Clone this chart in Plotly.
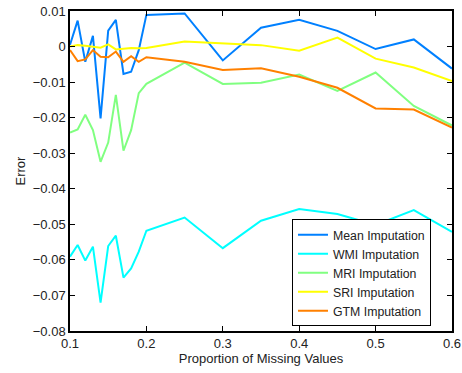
import plotly.graph_objects as go

x_vals = [0.10, 0.11, 0.12, 0.13, 0.14, 0.15, 0.16, 0.17, 0.18, 0.19, 0.20,
          0.25, 0.30, 0.35, 0.40, 0.45, 0.50, 0.55, 0.60]

mean_imp = [0.0005, 0.0073, -0.0043, 0.0030, -0.0202, 0.0045, 0.0075, -0.0077, -0.0071, -0.0010, 0.0089,
            0.0093, -0.0039, 0.0053, 0.0075, 0.0044, -0.0007, 0.0020, -0.0062]
wmi_imp = [-0.0591, -0.0558, -0.0602, -0.0563, -0.0720, -0.0561, -0.0532, -0.0650, -0.0624, -0.0577, -0.0518,
           -0.0481, -0.0567, -0.0490, -0.0457, -0.0471, -0.0502, -0.0460, -0.0521]
mri_imp = [-0.0242, -0.0233, -0.0192, -0.0235, -0.0324, -0.0270, -0.0136, -0.0293, -0.0235, -0.0131, -0.0105,
           -0.0045, -0.0105, -0.0102, -0.0079, -0.0125, -0.0073, -0.0167, -0.0222]
sri_imp = [0.0000, 0.0004, 0.0002, 0.0000, -0.0003, 0.0006, -0.0008, -0.0006, -0.0004, -0.0005, -0.0004,
           0.0014, 0.0008, 0.0004, -0.0012, 0.0025, -0.0034, -0.0059, -0.0097]
gtm_imp = [-0.0010, -0.0041, -0.0036, -0.0010, -0.0029, -0.0030, -0.0014, -0.0043, -0.0027, -0.0043, -0.0030,
           -0.0043, -0.0066, -0.0061, -0.0085, -0.0116, -0.0174, -0.0177, -0.0228]

series = [
    ("Mean Imputation", mean_imp, "#0080FF"),
    ("WMI Imputation", wmi_imp, "#00FFFF"),
    ("MRI Imputation", mri_imp, "#80FF80"),
    ("SRI Imputation", sri_imp, "#FFFF00"),
    ("GTM Imputation", gtm_imp, "#FF8000"),
]

x_ticks = [0.1, 0.2, 0.3, 0.4, 0.5, 0.6]
y_ticks = [0.01, 0, -0.01, -0.02, -0.03, -0.04, -0.05, -0.06, -0.07, -0.08]

fig = go.Figure()
for name, vals, color in series:
    fig.add_trace(go.Scatter(x=x_vals, y=vals, mode="lines", name=name,
                             line=dict(color=color, width=2)))

font_family = "Liberation Sans, Arial, sans-serif"
fig.update_layout(
    width=462, height=373,
    margin=dict(l=70, r=10, t=11, b=42, autoexpand=False),
    paper_bgcolor="white", plot_bgcolor="white",
    font=dict(family=font_family, size=12, color="#222222"),
    showlegend=True,
    legend=dict(x=0.945, y=0.015, xanchor="right", yanchor="bottom",
                bgcolor="white", bordercolor="black", borderwidth=1,
                font=dict(size=12.3, color="#222222"),
                tracegroupgap=0, itemwidth=30),
    xaxis=dict(range=[0.1, 0.6], tickvals=x_ticks, ticktext=[str(v) for v in x_ticks],
               showgrid=False, zeroline=False, showline=True, linecolor="black", linewidth=1.5,
               mirror="ticks", ticks="inside", ticklen=5, tickcolor="black", automargin=False,
               title=dict(text="Proportion of Missing Values", standoff=0, font=dict(size=13)),
               tickfont=dict(size=13)),
    yaxis=dict(range=[-0.08, 0.01], tickvals=y_ticks,
               ticktext=["0.01", "0", "\u22120.01", "\u22120.02", "\u22120.03", "\u22120.04",
                         "\u22120.05", "\u22120.06", "\u22120.07", "\u22120.08"],
               showgrid=False, zeroline=False, showline=True, linecolor="black", linewidth=1.5,
               mirror="ticks", ticks="inside", ticklen=5, tickcolor="black", automargin=False,
               title=dict(text="Error", standoff=4, font=dict(size=13)),
               tickfont=dict(size=13)),
)

# remove the default page margin so the figure fills the window exactly
page_fix = ("document.body.style.margin='0';"
            "document.documentElement.style.overflow='hidden';"
            "document.body.style.overflow='hidden';")

fig.write_html("out.html", post_script=page_fix, config={"displayModeBar": False})
